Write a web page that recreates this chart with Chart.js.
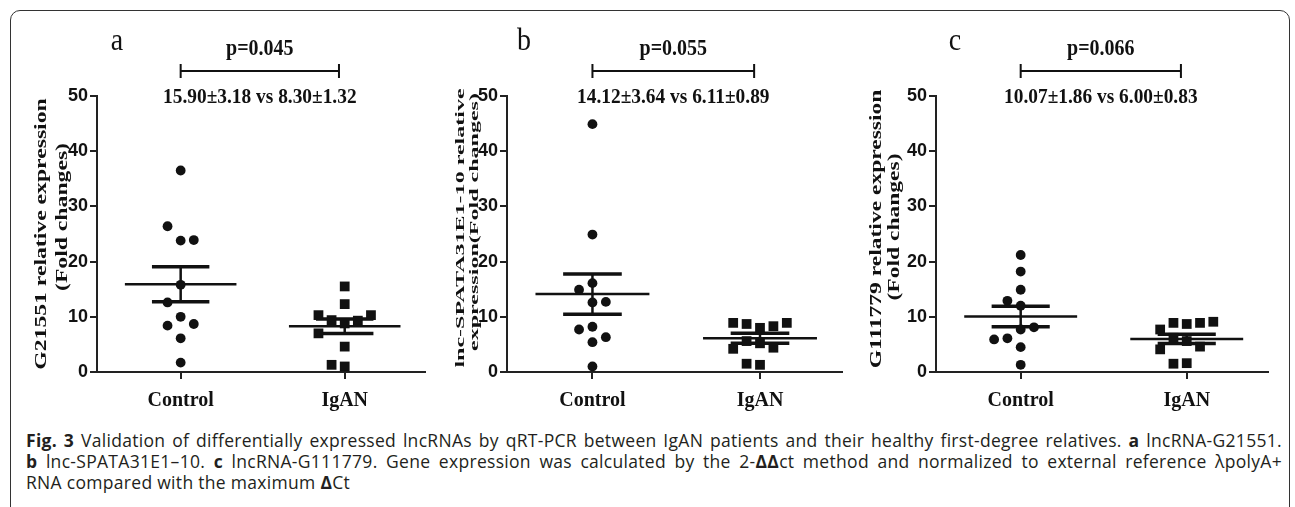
<!DOCTYPE html>
<html>
<head>
<meta charset="utf-8">
<script src="https://cdn.jsdelivr.net/npm/chart.js@4.4.1/dist/chart.umd.min.js"></script>
<style>
  html, body { margin: 0; padding: 0; background: #fff; }
  #page { position: relative; width: 1295px; height: 507px; overflow: hidden; background: #fff; }
  #frame { position: absolute; left: 10px; top: 10px; width: 1280px; height: 520px;
           border: 1.5px solid #333; border-radius: 10px; box-sizing: border-box; }
  .panel { position: absolute; top: 10px; height: 410px; }
  .caption { position: absolute; left: 26px; top: 430px; width: 1256px;
             font-family: "Open Sans", sans-serif; font-size: 17.5px; letter-spacing: 0.3px;
             line-height: 21px; color: #231f20; }
  .caption .j { text-align: justify; text-align-last: justify; }
</style>
</head>
<body>
<div id="page">
  <div id="frame"></div>
  <div class="panel" style="left:12px;width:420px"><canvas id="chartA"></canvas></div>
  <div class="panel" style="left:422px;width:427px"><canvas id="chartB"></canvas></div>
  <div class="panel" style="left:851px;width:424px"><canvas id="chartC"></canvas></div>
  <div class="caption">
    <div class="j"><b>Fig. 3</b> Validation of differentially expressed lncRNAs by qRT-PCR between IgAN patients and their healthy first-degree relatives. <b>a</b> lncRNA-G21551.</div>
    <div class="j"><b>b</b> lnc-SPATA31E1–10. <b>c</b> lncRNA-G111779. Gene expression was calculated by the 2-<b>ΔΔ</b>ct method and normalized to external reference λpolyA+</div>
    <div>RNA compared with the maximum <b>Δ</b>Ct</div>
  </div>
</div>
<script>
// data
const groups = ["Control", "IgAN"];
const panelLetters = ["a", "b", "c"];
const pValues = ["0.045", "0.055", "0.066"];
const yTicks = [0, 10, 20, 30, 40, 50];
const yTitles = [
  ["G21551 relative expression", "(Fold changes)"],
  ["lnc-SPATA31E1-10 relative", "expression(Fold changes)"],
  ["G111779 relative expression", "(Fold changes)"],
];

// panel a
const controlA = [36.5, 23.8, 26.4, 23.9, 15.8, 10.0, 12.6, 8.4, 8.7, 6.1, 1.7];
const iganA = [15.5, 12.3, 8.8, 9.4, 9.3, 10.3, 10.3, 7.0, 4.6, 1.0, 1.3];
const meanA = [15.90, 8.30];
const semA = [3.18, 1.32];

// panel b
const controlB = [44.9, 24.9, 16.1, 14.9, 12.6, 12.7, 8.2, 5.4, 7.7, 6.3, 1.0];
const iganB = [8.0, 8.7, 8.3, 8.9, 8.9, 5.2, 5.6, 4.4, 4.2, 1.3, 1.5];
const meanB = [14.12, 6.11];
const semB = [3.64, 0.89];

// panel c
const controlC = [21.2, 18.2, 14.9, 12.0, 12.9, 7.7, 6.1, 8.1, 5.9, 4.5, 1.3];
const iganC = [8.7, 8.9, 8.9, 7.7, 9.1, 6.2, 5.6, 4.6, 4.1, 1.6, 1.5];
const meanC = [10.07, 6.00];
const semC = [1.86, 0.83];

const INK = "#111";
const AXIS = "#222";

// spread close values sideways like a column scatter plot
function swarm(values, center) {
  const placed = [];
  const slots = [0, -1, 1, -2, 2, -3, 3];
  return values.map((v) => {
    for (const s of slots) {
      if (!placed.some((p) => p.s === s && Math.abs(p.v - v) < 2.7)) {
        placed.push({ s: s, v: v });
        return { x: center + s * 0.08, y: v };
      }
    }
    return { x: center, y: v };
  });
}

function seg(x0, x1, y0, y1, w) {
  return {
    type: "line",
    data: [{ x: x0, y: y0 }, { x: x1, y: y1 }],
    borderColor: INK,
    borderWidth: w,
    borderCapStyle: "butt",
    pointRadius: 0,
    fill: false,
  };
}

// text drawn a little taller / longer, like the exported figure
function stretchText(ctx, text, x, y, sx, sy, rotate) {
  ctx.save();
  ctx.translate(x, y);
  if (rotate) ctx.rotate(-Math.PI / 2);
  ctx.scale(sx, sy);
  ctx.fillText(text, 0, 0);
  ctx.restore();
}

const annotate = {
  id: "annotate",
  afterDraw(chart, args, opts) {
    const { ctx, chartArea } = chart;
    const x = chart.scales.x;
    const left = x.getPixelForValue(1);
    const right = x.getPixelForValue(1.965);
    const mid = (left + right) / 2;
    const top = chartArea.top;
    ctx.save();
    ctx.fillStyle = INK;
    ctx.strokeStyle = INK;
    ctx.textAlign = "center";
    ctx.font = '28px "Liberation Serif"';
    ctx.textBaseline = "alphabetic";
    stretchText(ctx, opts.letter, chartArea.left + opts.letterDx, top - 46, 1, 1.1, false);
    ctx.textBaseline = "middle";
    ctx.font = 'bold 20px "Liberation Serif"';
    stretchText(ctx, "p=" + opts.p, mid, top - 47, 1, 1.15, false);
    ctx.lineWidth = 2;
    ctx.beginPath();
    ctx.moveTo(left, top - 25);
    ctx.lineTo(right, top - 25);
    ctx.moveTo(left, top - 32);
    ctx.lineTo(left, top - 18);
    ctx.moveTo(right, top - 32);
    ctx.lineTo(right, top - 18);
    ctx.stroke();
    ctx.font = 'bold 19px "Liberation Serif"';
    stretchText(ctx, opts.stats, mid, top + 1, 1.02, 1.15, false);

    // y axis title, two rotated lines
    ctx.font = "bold " + opts.titleSize + 'px "Liberation Serif"';
    opts.title.forEach((line, k) => {
      stretchText(ctx, line, chartArea.left - opts.titleDx[k], top + opts.titleDy[k], opts.titleStretch, 1, true);
    });
    ctx.restore();
  },
};

function buildChart(id, i, control, igan, mean, sem, look) {
  const datasets = [
    { type: "scatter", data: swarm(control, 1), pointStyle: "circle", pointRadius: 4.9,
      backgroundColor: INK, borderWidth: 0 },
    { type: "scatter", data: swarm(igan, 2), pointStyle: "rect", pointRadius: 6.9,
      backgroundColor: INK, borderWidth: 0 },
  ];
  mean.forEach((m, g) => {
    const c = g + 1;
    const s = sem[g];
    datasets.push(seg(c - 0.34, c + 0.34, m, m, 2.5));
    datasets.push(seg(c - 0.175, c + 0.175, m + s, m + s, 3.5));
    datasets.push(seg(c - 0.175, c + 0.175, m - s, m - s, 3.5));
    datasets.push(seg(c, c, m - s, m + s, 2.5));
  });
  const stats = mean[0].toFixed(2) + "±" + sem[0].toFixed(2) + " vs " +
    mean[1].toFixed(2) + "±" + sem[1].toFixed(2);

  return new Chart(document.getElementById(id), {
    type: "scatter",
    data: { datasets: datasets },
    options: {
      responsive: true,
      maintainAspectRatio: false,
      animation: false,
      events: [],
      layout: { padding: { top: 86, right: 2, left: 0, bottom: 0 } },
      plugins: {
        legend: { display: false },
        tooltip: { enabled: false },
        annotate: {
          letter: panelLetters[i],
          letterDx: look.letterDx,
          p: pValues[i],
          stats: stats,
          title: yTitles[i],
          titleSize: look.titleSize,
          titleStretch: look.titleStretch,
          titleDx: look.titleDx,
          titleDy: look.titleDy,
        },
      },
      scales: {
        x: {
          type: "linear",
          min: 0.49,
          max: 2.49,
          afterBuildTicks: (s) => { s.ticks = groups.map((_, k) => ({ value: k + 1 })); },
          afterFit: (s) => { s.height = 48; },
          ticks: {
            callback: (v) => groups[Math.round(v) - 1],
            autoSkip: false,
            maxRotation: 0,
            padding: 10,
            color: INK,
            font: { family: "Liberation Serif", weight: "bold", size: 20 },
          },
          grid: { drawOnChartArea: false, drawTicks: true, tickLength: 7, color: AXIS, lineWidth: 2 },
          border: { color: AXIS, width: 2 },
        },
        y: {
          min: 0,
          max: 50,
          afterBuildTicks: (s) => { s.ticks = yTicks.map((v) => ({ value: v })); },
          afterFit: (s) => { s.width = 85; },
          ticks: {
            padding: 2,
            color: INK,
            font: { family: "Liberation Sans", weight: "bold", size: 18 },
          },
          grid: { drawOnChartArea: false, drawTicks: true, tickLength: 7, color: AXIS, lineWidth: 2 },
          border: { color: AXIS, width: 2 },
          title: { display: false },
        },
      },
    },
    plugins: [annotate],
  });
}

buildChart("chartA", 0, controlA, iganA, meanA, semA,
  { letterDx: 20, titleSize: 16, titleStretch: 1.48, titleDx: [55, 34], titleDy: [138, 121] });
buildChart("chartB", 1, controlB, iganB, meanB, semB,
  { letterDx: 17, titleSize: 13.5, titleStretch: 1.78, titleDx: [46, 32], titleDy: [132, 126] });
buildChart("chartC", 2, controlC, iganC, meanC, semC,
  { letterDx: 19, titleSize: 16, titleStretch: 1.47, titleDx: [59, 41], titleDy: [133, 131] });
</script>
</body>
</html>
